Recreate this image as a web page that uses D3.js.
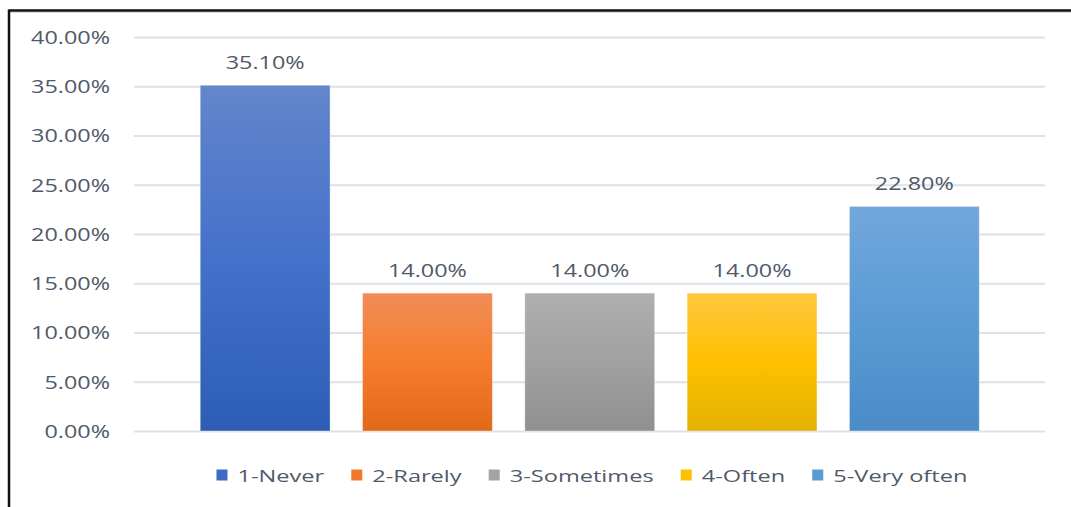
<!DOCTYPE html>
<html>
<head>
<meta charset="utf-8">
<script src="https://cdn.jsdelivr.net/npm/d3@7"></script>
<style>
  html, body { margin: 0; padding: 0; background: #fff; }
  svg { display: block; }
  text { font-family: "Open Sans", "DejaVu Sans", sans-serif; fill: #4f5a69; }
</style>
</head>
<body>
<svg id="chart" width="1071" height="507"></svg>
<script>
// Survey responses: share of respondents per frequency answer
const categories = ["1-Never", "2-Rarely", "3-Sometimes", "4-Often", "5-Very often"];
const shares = [0.351, 0.14, 0.14, 0.14, 0.228];
const yTicks = [0, 0.05, 0.10, 0.15, 0.20, 0.25, 0.30, 0.35, 0.40];

// Fill per category: [top, middle, bottom] of the vertical gradient, plus legend swatch
const gradStops = [
  ["#6386cc", "#4471c9", "#2d5db5"],
  ["#f18d58", "#f57d2d", "#e2691a"],
  ["#afafaf", "#a1a1a1", "#909090"],
  ["#ffc73f", "#ffc000", "#e3b200"],
  ["#72a7dc", "#5b9bd5", "#4a8bc8"]
];
const swatch = ["#3d6bc3", "#f07a2b", "#a3a3a3", "#ffc000", "#5b9bd5"];

const svg = d3.select("#chart");
const width = 1071, height = 507;

const y = d3.scaleLinear().domain([0, 0.4]).range([431, 37]);
const x = d3.scaleBand().domain(categories)
  .range([184, 995.5]).paddingInner(0.2).paddingOuter(0.1);

const fmt = d3.format(".2%");

// gradients
const defs = svg.append("defs");
gradStops.forEach((s, i) => {
  const g = defs.append("linearGradient").attr("id", "g" + i)
    .attr("x1", 0).attr("y1", 0).attr("x2", 0).attr("y2", 1);
  g.append("stop").attr("offset", "0%").attr("stop-color", s[0]);
  g.append("stop").attr("offset", "50%").attr("stop-color", s[1]);
  g.append("stop").attr("offset", "100%").attr("stop-color", s[2]);
});

// outer frame (top and left edges)
svg.append("line").attr("x1", 9).attr("x2", width).attr("y1", 10.5).attr("y2", 10.5)
  .attr("stroke", "#111").attr("stroke-width", 2.5);
svg.append("line").attr("x1", 9).attr("x2", width).attr("y1", 12.5).attr("y2", 12.5)
  .attr("stroke", "#d8d8d8").attr("stroke-width", 1);
svg.append("line").attr("x1", 9).attr("x2", 9).attr("y1", 9.5).attr("y2", height)
  .attr("stroke", "#111").attr("stroke-width", 2.5);

// y axis: gridlines + labels
const yAxis = d3.axisLeft(y).tickValues(yTicks).tickFormat(fmt)
  .tickSize(-(1045 - 134)).tickPadding(0);
const yg = svg.append("g").attr("transform", "translate(134,0)").call(yAxis);
yg.select(".domain").remove();
yg.selectAll(".tick line").attr("stroke", "#dde2ea").attr("stroke-width", 2);
yg.selectAll(".tick text")
  .attr("x", null).attr("dy", "0.36em")
  .style("font-size", "18px")
  .attr("fill", "#4f5a69")
  .attr("text-anchor", "end")
  .attr("transform", "translate(-24,0) scale(1.3,1)");

// bars
svg.append("g").selectAll("rect").data(shares).join("rect")
  .attr("x", (d, i) => x(categories[i]))
  .attr("width", x.bandwidth())
  .attr("y", d => y(d))
  .attr("height", d => y(0) - y(d))
  .attr("fill", (d, i) => `url(#g${i})`)
  .attr("stroke", "rgba(255,255,255,0.35)").attr("stroke-width", 1);

// value labels
svg.append("g").selectAll("text").data(shares).join("text")
  .attr("transform", (d, i) =>
    `translate(${x(categories[i]) + x.bandwidth() / 2},${y(d) - 16}) scale(1.3,1)`)
  .attr("text-anchor", "middle")
  .style("font-size", "18px")
  .text(d => fmt(d));

// legend
const legend = svg.append("g");
const sx = 1.43, sq = 11, gapIn = 10, gapOut = 27, baseY = 481.5;
const items = legend.selectAll("g").data(categories).join("g");
items.append("rect").attr("width", sq).attr("height", sq)
  .attr("y", baseY - 12).attr("fill", (d, i) => swatch[i]);
items.append("text").attr("class", "lt")
  .style("font-size", "16.5px").text(d => d);
let cx = 0;
const widths = [];
items.each(function (d, i) {
  const w = d3.select(this).select("text").node().getComputedTextLength() * sx;
  widths.push(w);
});
const total = d3.sum(widths) + categories.length * (sq + gapIn) + (categories.length - 1) * gapOut;
cx = 592 - total / 2;
items.each(function (d, i) {
  const g = d3.select(this);
  g.select("rect").attr("x", cx);
  g.select("text").attr("transform", `translate(${cx + sq + gapIn},${baseY}) scale(${sx},1)`);
  cx += sq + gapIn + widths[i] + gapOut;
});
</script>
</body>
</html>
